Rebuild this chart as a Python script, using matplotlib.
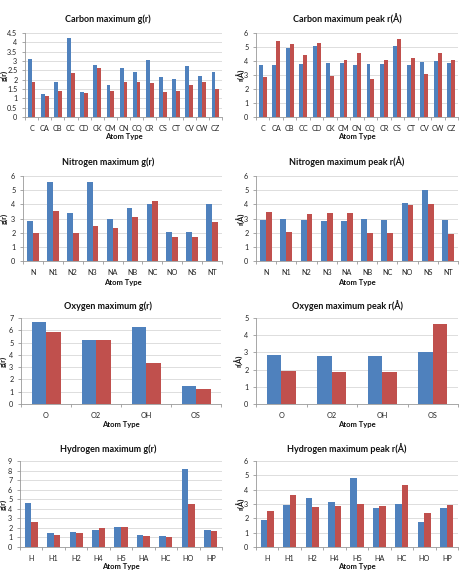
import matplotlib
matplotlib.use("Agg")
import matplotlib.pyplot as plt
import numpy as np

plt.rcParams['font.family'] = ['Lato', 'DejaVu Sans']

W, H = 462, 572
BLUE = '#4F81BD'
RED = '#C0504D'

# ---- data ----
carbon_types = ['C', 'CA', 'CB', 'CC', 'CD', 'CK', 'CM', 'CN', 'CQ', 'CR', 'CS', 'CT', 'CV', 'CW', 'CZ']
carbon_g_blue = [3.1, 1.25, 1.85, 4.25, 1.35, 2.8, 1.7, 2.6, 2.4, 3.05, 2.15, 2.05, 2.75, 2.2, 2.4]
carbon_g_red = [1.85, 1.15, 1.4, 2.35, 1.3, 2.6, 1.4, 1.85, 1.85, 1.8, 1.35, 1.4, 1.7, 1.85, 1.5]
carbon_r_blue = [3.75, 3.7, 4.9, 3.8, 5.1, 3.85, 3.85, 3.75, 3.8, 3.8, 5.1, 3.75, 3.95, 4.0, 3.85]
carbon_r_red = [2.85, 5.4, 5.25, 4.45, 5.3, 2.95, 4.05, 4.6, 2.7, 4.05, 5.6, 4.25, 3.05, 4.55, 4.05]

nitrogen_types = ['N', 'N1', 'N2', 'N3', 'NA', 'NB', 'NC', 'NO', 'NS', 'NT']
nitrogen_g_blue = [2.8, 5.55, 3.4, 5.55, 2.95, 3.75, 4.05, 2.05, 2.05, 4.0]
nitrogen_g_red = [1.95, 3.55, 2.0, 2.5, 2.35, 3.1, 4.25, 1.7, 1.7, 2.75]
nitrogen_r_blue = [2.9, 2.95, 2.9, 2.85, 2.8, 2.95, 2.9, 4.1, 5.0, 2.9]
nitrogen_r_red = [3.45, 2.05, 3.35, 3.4, 3.4, 1.95, 1.95, 3.95, 4.05, 1.9]

oxygen_types = ['O', 'O2', 'OH', 'OS']
oxygen_g_blue = [6.65, 5.25, 6.3, 1.5]
oxygen_g_red = [5.85, 5.25, 3.35, 1.2]
oxygen_r_blue = [2.85, 2.8, 2.8, 3.0]
oxygen_r_red = [1.9, 1.85, 1.85, 4.65]

hydrogen_types = ['H', 'H1', 'H2', 'H4', 'H5', 'HA', 'HC', 'HO', 'HP']
hydrogen_g_blue = [4.65, 1.45, 1.55, 1.75, 2.1, 1.3, 1.2, 8.2, 1.75]
hydrogen_g_red = [2.6, 1.3, 1.45, 1.95, 2.1, 1.1, 1.0, 4.5, 1.65]
hydrogen_r_blue = [1.9, 2.9, 3.45, 3.15, 4.8, 2.75, 3.0, 1.75, 2.7]
hydrogen_r_red = [2.5, 3.65, 2.8, 2.85, 3.0, 2.85, 4.3, 2.35, 2.95]

fig = plt.figure(figsize=(W / 100, H / 100), dpi=100)


def panel(box, cats, blue, red, ymax, ystep, title, ylabel, title_x, title_y, xlabel_y, ylabel_x):
    l, t, r, b = box
    ax = fig.add_axes([l / W, 1 - b / H, (r - l) / W, (b - t) / H])
    x = np.arange(len(cats))
    w = 0.29
    ax.bar(x - w / 2, blue, w, color=BLUE, zorder=3)
    ax.bar(x + w / 2, red, w, color=RED, zorder=3)
    ax.set_xlim(-0.5, len(cats) - 0.5)
    ax.set_ylim(0, ymax)
    yt = np.arange(0, ymax + 1e-9, ystep)
    ax.set_yticks(yt)
    ax.set_yticklabels([('%g' % v) for v in yt], fontsize=5.2, color='#222222')
    ax.set_xticks(x)
    ax.set_xticklabels(cats, fontsize=5.2, color='#222222')
    ax.set_xticks(np.arange(-0.5, len(cats) + 0.5, 1), minor=True)
    ax.tick_params(axis='x', which='major', length=0, pad=6)
    ax.tick_params(axis='x', which='minor', length=2.5, color='#999999', width=0.6)
    ax.tick_params(axis='y', length=2.5, color='#999999', width=0.6, pad=3)
    ax.grid(axis='y', color='#D8D8D8', linewidth=0.6, zorder=0)
    for s in ['top', 'right']:
        ax.spines[s].set_visible(False)
    for s in ['left', 'bottom']:
        ax.spines[s].set_color('#999999')
        ax.spines[s].set_linewidth(0.6)
    fig.text(title_x / W, 1 - title_y / H, title, ha='center', va='center',
             fontsize=6.5, fontweight='bold', color='#111111')
    fig.text(((l + r) / 2) / W, 1 - xlabel_y / H, 'Atom Type', ha='center', va='center',
             fontsize=5.5, fontweight='bold', color='#111111')
    fig.text(ylabel_x / W, 1 - ((t + b) / 2) / H, ylabel, ha='center', va='center',
             rotation=90, fontsize=5.5, fontweight='bold', color='#111111')
    return ax


panel((25, 33, 222, 117), carbon_types, carbon_g_blue, carbon_g_red, 4.5, 0.5,
      'Carbon maximum g(r)', 'g(r)', 108, 19, 137, 4)
panel((256, 33, 458, 117), carbon_types, carbon_r_blue, carbon_r_red, 6, 1,
      'Carbon maximum peak r(Å)', 'r(Å)', 347, 19, 137, 241)
panel((23, 176, 222, 261), nitrogen_types, nitrogen_g_blue, nitrogen_g_red, 6, 1,
      'Nitrogen maximum g(r)', 'g(r)', 108, 162, 282, 4)
panel((256, 176, 458, 261), nitrogen_types, nitrogen_r_blue, nitrogen_r_red, 6, 1,
      'Nitrogen maximum peak r(Å)', 'r(Å)', 347, 162, 282, 241)
panel((21, 318, 221, 404), oxygen_types, oxygen_g_blue, oxygen_g_red, 7, 1,
      'Oxygen maximum g(r)', 'g(r)', 108, 306, 424, 3)
panel((256, 318, 458, 404), oxygen_types, oxygen_r_blue, oxygen_r_red, 5, 1,
      'Oxygen maximum peak r(Å)', 'r(Å)', 347, 306, 424, 239)
panel((20, 461, 222, 547), hydrogen_types, hydrogen_g_blue, hydrogen_g_red, 9, 1,
      'Hydrogen maximum g(r)', 'g(r)', 108, 449, 567, 3)
panel((256, 461, 458, 547), hydrogen_types, hydrogen_r_blue, hydrogen_r_red, 6, 1,
      'Hydrogen maximum peak r(Å)', 'r(Å)', 347, 449, 567, 241)

fig.savefig('out.png', dpi=100)
